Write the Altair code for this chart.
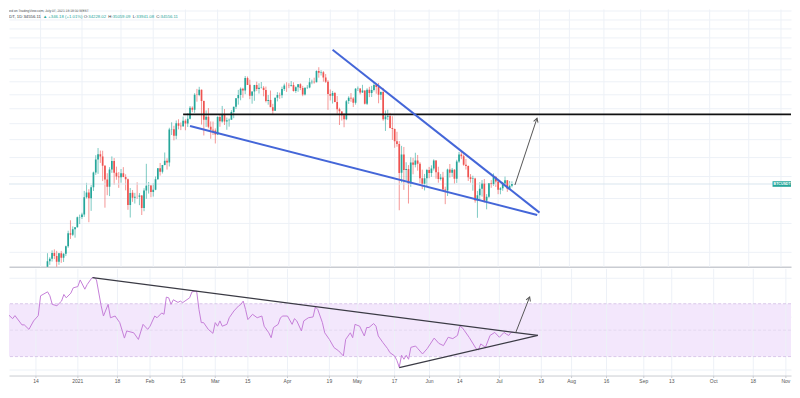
import math
import altair as alt
import pandas as pd

# ---------------- data ----------------
candle_start = "2020-12-17"
opens = [21336, 22797, 23107, 23821, 23455, 22719, 23810, 23232, 23729, 24712, 26493, 26281, 27079, 27385, 28875,
         28923, 29331, 32176, 33000, 31989, 33949, 36769, 39432, 40586, 40088, 38150, 35410, 34049, 37371, 39145, 36737,
         35994, 35824, 36622, 35901, 35468, 30852, 32950, 32078, 32259, 32254, 32464, 30362, 33368, 34246, 34262,
         33092, 33517, 35472, 37620, 36936, 38289, 39181, 38795, 46374, 46420, 44807, 47969, 47288, 47153, 48577, 47911,
         49133, 52117, 51553, 55906, 55841, 57413, 54087, 48891, 49677, 47073, 46276, 46104,
         45135, 49587, 48436, 50349, 48374, 48746, 48882, 50959, 52375, 54874, 55851, 57773, 57221, 61188, 58976, 55605,
         56900, 58912, 57641, 58030, 58100, 57351, 54083, 54342, 52303, 51293, 55025, 55817, 55782, 57635, 58746,
         58739, 58720, 58950, 57052, 58202, 59129, 57991, 55954, 58077, 58142, 59769, 59980, 59838, 63576, 62959, 63159,
         61334, 60006, 56150, 55633, 56425, 53787, 51690, 51110, 50047, 49004, 54030, 55036, 54819, 53555,
         57714, 57826, 56610, 57213, 53241, 57473, 56428, 57380, 58928, 58280, 55883, 56750, 49007, 49690, 49880, 46742,
         46457, 43539, 42849, 36707, 40526, 37253, 37455, 34655, 38797, 38325, 39241, 38529, 35662, 34606, 35641,
         37253, 36694, 37568, 39246, 36829, 35516, 35796, 33556, 33381, 37389, 36697, 37340, 35555, 39016, 40516, 40143,
         38349, 38099, 35854, 35484, 35601, 31614, 32510, 33675, 34663, 31576, 32283, 34702, 34494, 35911,
         35045, 33502, 33786, 34669, 35288, 33690, 34228]
highs = [23800, 23285, 24171, 24295, 24102, 23837, 24100, 23794, 24789, 26867, 28422, 27500, 27410, 28996, 29300,
         29600, 33300, 34778, 33600, 34360, 36939, 40365, 41950, 41380, 41350, 38264, 36628, 37850, 40100, 39747, 37950,
         36852, 37469, 37850, 36415, 35600, 33826, 33456, 32944, 34875, 32921, 32557, 33783, 38531, 34933, 34342,
         34717, 35984, 37662, 38708, 38310, 40955, 39700, 46794, 48200, 47310, 48678, 48985, 48150, 49707, 49010, 50623,
         52618, 52530, 56368, 57700, 58352, 57508, 54183, 51374, 52041, 48424, 48395, 46638,
         49791, 50200, 52640, 51773, 49448, 49200, 51450, 52402, 54895, 57387, 58150, 58058, 61844, 61683, 60633, 56938,
         58982, 60000, 59468, 59880, 58589, 58430, 55830, 57200, 53238, 55073, 56700, 56559, 58400, 59368, 59800,
         59490, 60200, 59791, 58500, 59251, 59474, 58650, 58153, 58894, 61216, 60658, 61300, 63777, 64854, 63800, 63520,
         62506, 60499, 57526, 57076, 56757, 55521, 52131, 51166, 50567, 54356, 55460, 56428, 55200, 57963,
         58458, 57912, 58981, 57213, 57911, 58360, 58650, 59500, 59300, 59592, 56900, 58000, 51367, 51570, 50700, 49800,
         46600, 45800, 43547, 42451, 42200, 38856, 38270, 39920, 39791, 40900, 40411, 38877, 37338, 36488, 37499,
         37895, 38225, 39476, 39289, 37925, 36480, 36900, 34068, 37534, 38491, 37680, 37436, 39380, 41064, 41330, 40527,
         39559, 38202, 36457, 36137, 35750, 33298, 34881, 35298, 35500, 32730, 34749, 35297, 36600, 36100,
         35057, 33977, 34945, 35967, 35293, 35118, 35059]
lows = [21230, 22350, 22750, 23060, 21815, 22353, 22600, 22703, 23433, 24500, 25700, 26101, 25880, 27320, 27850,
        28624, 28946, 31963, 28130, 29900, 33288, 36300, 36500, 38720, 35111, 30420, 32531, 32380, 36701, 34408, 35357,
        33850, 34800, 35844, 33400, 30071, 28850, 31390, 31106, 31910, 30838, 29241, 29842, 31915, 32825, 32171,
        32296, 33418, 35362, 36161, 36570, 38215, 37351, 37988, 45000, 43727, 43994, 46400, 46202, 47014, 46174, 47003,
        48947, 50901, 50710, 53863, 55477, 47622, 44892, 47004, 46674, 44106, 45000, 43000,
        45000, 47047, 48100, 47500, 46300, 47070, 48882, 49274, 51789, 53005, 54272, 55013, 56078, 58966, 54600, 53271,
        54123, 57023, 56270, 57820, 55450, 53650, 53000, 52819, 50427, 51283, 53950, 54691, 54900, 57072, 56769,
        57935, 58428, 56880, 56478, 56817, 57333, 55473, 55700, 57654, 57903, 59177, 59369, 59790, 61301, 62020, 60000,
        59580, 51541, 54221, 53329, 53696, 50500, 47500, 48658, 46930, 48753, 53222, 53813, 52330, 53013,
        57052, 56035, 56478, 53046, 52900, 55200, 55241, 56900, 56235, 53400, 54370, 48600, 46000, 48800, 46650, 43825,
        42002, 42250, 30000, 34850, 33488, 35200, 31111, 34031, 36420, 37800, 37134, 34684, 33633, 33380, 34153,
        35662, 35920, 37170, 35555, 34800, 35222, 33300, 31000, 32396, 35782, 35936, 34600, 34757, 38731, 39506, 38116,
        37365, 35129, 34803, 33336, 31251, 28805, 31683, 32286, 31275, 30151, 32071, 33862, 34225, 34017,
        32711, 32699, 33316, 34357, 33125, 33532, 33941]
closes = [22797, 23107, 23821, 23455, 22719, 23810, 23232, 23729, 24712, 26493, 26281, 27079, 27385, 28875, 28923,
          29331, 32178, 33000, 31988, 33949, 36769, 39432, 40582, 40088, 38150, 35404, 34051, 37371, 39144, 36742, 35994,
          35828, 36631, 35891, 35468, 30850, 32945, 32078, 32259, 32254, 32467, 30366, 33364, 34252, 34262, 33092,
          33526, 35466, 37618, 36936, 38290, 39186, 38795, 46374, 46420, 44807, 47969, 47287, 47153, 48577, 47911, 49133,
          52119, 51552, 55906, 55841, 57408, 54087, 48891, 49676, 47073, 46276, 46106, 45135,
          49587, 48440, 50349, 48374, 48751, 48882, 50971, 52375, 54884, 55851, 57773, 57221, 61188, 58968, 55605, 56900,
          58912, 57648, 58030, 58102, 57351, 54083, 54341, 52303, 51293, 55025, 55817, 55777, 57635, 58746, 58740,
          58720, 58950, 57051, 58202, 59129, 57991, 55953, 58077, 58142, 59769, 59980, 59838, 63576, 62959, 63159, 61334,
          60006, 56150, 55633, 56425, 53787, 51690, 51125, 50047, 49004, 54021, 55033, 54824, 53555, 57750,
          57828, 56610, 57213, 53241, 57473, 56428, 57380, 58928, 58280, 55883, 56750, 49007, 49716, 49880, 46760, 46456,
          43538, 42849, 36690, 40527, 37252, 37449, 34655, 38797, 38324, 39241, 38529, 35663, 34606, 35641, 37254,
          36694, 37568, 39246, 36829, 35513, 35796, 33552, 33380, 37389, 36697, 37340, 35555, 39015, 40516, 40144, 38349,
          38092, 35820, 35484, 35600, 31608, 32509, 33678, 34663, 31584, 32283, 34700, 34494, 35911, 35045,
          33504, 33786, 34669, 35287, 33690, 34220, 34556]

rsi_dates = ["2020-11-29", "2020-11-30", "2020-12-01", "2020-12-02", "2020-12-04", "2020-12-05", "2020-12-08",
             "2020-12-09", "2020-12-11", "2020-12-13", "2020-12-15", "2020-12-16", "2020-12-19", "2020-12-20",
             "2020-12-21", "2020-12-23", "2020-12-25", "2020-12-26", "2020-12-27", "2020-12-29", "2020-12-30",
             "2021-01-01", "2021-01-02", "2021-01-04", "2021-01-05", "2021-01-07", "2021-01-08", "2021-01-09",
             "2021-01-11", "2021-01-12", "2021-01-14", "2021-01-15", "2021-01-17", "2021-01-19", "2021-01-21",
             "2021-01-22", "2021-01-25", "2021-01-27", "2021-01-29", "2021-01-31", "2021-02-01", "2021-02-03",
             "2021-02-04", "2021-02-06", "2021-02-07", "2021-02-08", "2021-02-09", "2021-02-10", "2021-02-11",
             "2021-02-13", "2021-02-14", "2021-02-15", "2021-02-18", "2021-02-19", "2021-02-21", "2021-02-22",
             "2021-02-23", "2021-02-24", "2021-02-26", "2021-02-28", "2021-03-01", "2021-03-02", "2021-03-03",
             "2021-03-04", "2021-03-06", "2021-03-07", "2021-03-09", "2021-03-11", "2021-03-12", "2021-03-13",
             "2021-03-14", "2021-03-15", "2021-03-17", "2021-03-19", "2021-03-21", "2021-03-22", "2021-03-24",
             "2021-03-25", "2021-03-26", "2021-03-28", "2021-03-29", "2021-03-30", "2021-04-01", "2021-04-03",
             "2021-04-04", "2021-04-05", "2021-04-07", "2021-04-08", "2021-04-10", "2021-04-12", "2021-04-13",
             "2021-04-14", "2021-04-16", "2021-04-17", "2021-04-19", "2021-04-21", "2021-04-23", "2021-04-25",
             "2021-04-26", "2021-04-28", "2021-04-29", "2021-04-30", "2021-05-02", "2021-05-04", "2021-05-05",
             "2021-05-06", "2021-05-08", "2021-05-09", "2021-05-10", "2021-05-12", "2021-05-14", "2021-05-15",
             "2021-05-17", "2021-05-18", "2021-05-19", "2021-05-20", "2021-05-21", "2021-05-22", "2021-05-23",
             "2021-05-24", "2021-05-26", "2021-05-27", "2021-05-29", "2021-05-31", "2021-06-03", "2021-06-05",
             "2021-06-07", "2021-06-09", "2021-06-11", "2021-06-13", "2021-06-14", "2021-06-15", "2021-06-16",
             "2021-06-18", "2021-06-21", "2021-06-22", "2021-06-23", "2021-06-25", "2021-06-27", "2021-06-29",
             "2021-07-01", "2021-07-03", "2021-07-04", "2021-07-05", "2021-07-06", "2021-07-07"]
rsi_values = [64.5, 70, 63, 62, 58.7, 61, 54, 54, 50.6, 57, 61, 76, 79, 76, 69.5, 68.5, 72, 77, 74.5, 78, 82,
              83, 88, 81, 84.5, 89.5, 90, 88, 68.5, 60.7, 69.5, 59.4, 60.7, 55.7, 44, 49.4, 48, 43, 54.4, 50.6,
              53, 60.7, 59.4, 63, 62, 75, 74.5, 69.5, 73, 71, 72, 70.8, 74.5, 79, 79.6, 65.7, 55.7, 55.7, 50.6, 47.6,
              55.7, 53, 57, 53, 54.4, 59.4, 64.5, 68.3, 69.5, 72, 65.7, 58, 62, 59.4, 60.7, 53, 48, 44.3, 52, 54.4,
              59.4, 60.7, 60.7, 54.4, 58.7, 57, 49.4, 57, 59.4, 60, 67.5, 65.7, 55.7, 48, 43, 36.8, 34.3, 30.5,
              43, 48, 44.3, 54.4, 53, 45.6, 52, 52, 55, 53, 45.6, 40.6, 36, 33, 30.5, 27, 22, 31, 28, 31, 28,
              37, 38, 36, 32, 36, 44, 40, 38.3, 44.6, 43.6, 46, 53, 52, 49.6, 44.6, 36, 35, 39.6, 37, 46, 48.3,
              44.6, 48.3, 47, 46, 48.3, 48.5]

tick_dates = ["2020-12-14", "2021-01-01", "2021-01-18", "2021-02-01", "2021-02-15", "2021-03-01", "2021-03-15",
              "2021-04-01", "2021-04-19", "2021-05-01", "2021-05-17", "2021-06-01", "2021-06-14", "2021-07-01",
              "2021-07-19", "2021-08-01", "2021-08-16", "2021-09-01", "2021-09-13", "2021-10-01", "2021-10-18",
              "2021-11-01"]
tick_labels = ["14", "2021", "18", "Feb", "15", "Mar", "15", "Apr", "19", "May", "17", "Jun", "14", "Jul",
               "19", "Aug", "16", "Sep", "13", "Oct", "18", "Nov"]
price_grid = [24000, 28000, 32000, 36000, 40000, 44000, 48000, 52000, 56000, 60000, 64000, 68000, 72000,
              76000, 80000, 84000, 88000]
rsi_grid = [20, 40, 60, 80, 90]
rsi_band = [30, 70]
rsi_mid = [50]
last_price = 34556.11

resistance_dates = ["2021-02-14", "2021-12-01"]
resistance_prices = [50300, 50300]
upper_wedge_dates = ["2021-04-20", "2021-07-19"]
upper_wedge_prices = [71280, 29620]
lower_wedge_dates = ["2021-02-17", "2021-07-18"]
lower_wedge_prices = [47230, 29250]
price_arrow_dates = ["2021-07-08T07:00:00Z", "2021-07-17T22:00:00Z"]
price_arrow_prices = [34370, 49270]
rsi_upper_dates = ["2021-01-07T07:00:00Z", "2021-07-17T12:00:00Z"]
rsi_upper_values = [89.8, 46]
rsi_lower_dates = ["2021-05-19", "2021-07-17T12:00:00Z"]
rsi_lower_values = [21.7, 46]
rsi_arrow_dates = ["2021-07-08", "2021-07-14"]
rsi_arrow_values = [48.1, 75.1]

# ---------------- tables ----------------
n = len(closes)
assert len(opens) == n == len(highs) == len(lows) == 203
candle_dates = pd.date_range(candle_start, periods=n, freq="D").strftime("%Y-%m-%d")
candles = pd.DataFrame({"date": candle_dates, "open": opens, "high": highs, "low": lows, "close": closes})
candles["dir"] = ["up" if c >= o else "down" for o, c in zip(opens, closes)]
rsi_df = pd.DataFrame({"date": rsi_dates, "rsi": rsi_values})
ticks_df = pd.DataFrame({"date": tick_dates, "label": tick_labels})

def ms(s):
    return int(pd.Timestamp(s, tz="UTC").value // 10**6)

x_domain = [ms("2020-12-02T10:29:00"), ms("2021-11-03T05:00:00")]

UP, DOWN = "#26a69a", "#ef5350"
GRID = "#edf1f7"
FONT = "Liberation Sans"
W = 784
H_TOP, H_BOT = 258, 107

x_scale = alt.Scale(type="utc", domain=x_domain)
y_scale = alt.Scale(type="log", domain=[22116, 88536], nice=False)
r_scale = alt.Scale(domain=[15.66, 96.42], nice=False, zero=False)

top_x_axis = alt.Axis(labels=False, ticks=False, grid=False, domainColor="#c9ccd2", domainWidth=1.5,
                      title=None, minExtent=0, maxExtent=0)
bot_x_axis = alt.Axis(labels=False, ticks=False, grid=False, domainColor="#c9ccd2", domainWidth=1,
                      title=None, minExtent=0, maxExtent=0)
top_y_axis = alt.Axis(values=price_grid, labels=False, ticks=False, domain=False, grid=True, gridColor=GRID,
                      title=None, orient="right", minExtent=0, maxExtent=0)
bot_y_axis = alt.Axis(values=rsi_grid, labels=False, ticks=False, domain=False, grid=True, gridColor=GRID,
                      title=None, orient="right", minExtent=0, maxExtent=0)

def line_df(dates, vals):
    return pd.DataFrame({"date": dates, "v": vals})

color_enc = alt.Color("dir:N", scale=alt.Scale(domain=["up", "down"], range=[UP, DOWN]), legend=None)

vgrid_top = alt.Chart(ticks_df).mark_rule(color=GRID, strokeWidth=1).encode(
    x=alt.X("date:T", scale=x_scale, axis=top_x_axis))
vgrid_bot = alt.Chart(ticks_df).mark_rule(color=GRID, strokeWidth=1).encode(
    x=alt.X("date:T", scale=x_scale, axis=bot_x_axis))
tick_marks = alt.Chart(ticks_df).mark_rule(color="#c9ccd2", strokeWidth=1).encode(
    x=alt.X("date:T", scale=x_scale), y=alt.value(H_BOT), y2=alt.value(H_BOT + 2.5))
tick_text = alt.Chart(ticks_df).mark_text(color="#555", fontSize=5, font=FONT, baseline="top").encode(
    x=alt.X("date:T", scale=x_scale), y=alt.value(H_BOT + 3), text="label:N")

base = alt.Chart(candles)
wicks = base.mark_rule(strokeWidth=0.8, opacity=0.75, clip=True).encode(
    x=alt.X("date:T", scale=x_scale),
    y=alt.Y("low:Q", scale=y_scale, axis=top_y_axis),
    y2="high:Q",
    color=color_enc,
)
bodies = base.mark_bar(size=1.7, clip=True).encode(
    x=alt.X("date:T", scale=x_scale),
    y=alt.Y("open:Q", scale=y_scale),
    y2="close:Q",
    color=color_enc,
)

def pline(dates, vals, color, width, scale):
    return alt.Chart(line_df(dates, vals)).mark_line(color=color, strokeWidth=width, clip=True).encode(
        x=alt.X("date:T", scale=x_scale), y=alt.Y("v:Q", scale=scale))

def head(date, val, angle, scale, color):
    return alt.Chart(line_df([date], [val])).mark_point(
        shape="M -0.55 0.95 L 0 0 L 0.55 0.95", filled=False, size=70, angle=angle,
        color=color, strokeWidth=1, opacity=1, clip=True).encode(
        x=alt.X("date:T", scale=x_scale), y=alt.Y("v:Q", scale=scale))

last_line = alt.Chart(pd.DataFrame({"v": [last_price]})).mark_rule(color="#d9e6ee", strokeWidth=1).encode(
    y=alt.Y("v:Q", scale=y_scale))

resistance = pline(resistance_dates, resistance_prices, "#111111", 1.8, y_scale)
upper_wedge = pline(upper_wedge_dates, upper_wedge_prices, "#4466d8", 2, y_scale)
lower_wedge = pline(lower_wedge_dates, lower_wedge_prices, "#4466d8", 2, y_scale)
price_arrow = pline(price_arrow_dates, price_arrow_prices, "#555555", 1, y_scale)
price_head = head(price_arrow_dates[1], price_arrow_prices[1], 18, y_scale, "#555555")

# price tag on the right edge
tag_df = pd.DataFrame({"lo": [last_price * math.exp(-2.8 / 186)], "hi": [last_price * math.exp(2.8 / 186)],
                       "v": [last_price], "t": ["BTCUSDT"]})
tag_rect = alt.Chart(tag_df).mark_rect(color="#26a69a").encode(
    x=alt.value(W - 18.5), x2=alt.value(W), y=alt.Y("lo:Q", scale=y_scale), y2="hi:Q")
tag_text = alt.Chart(tag_df).mark_text(color="white", fontSize=3.6, font=FONT, fontWeight="bold",
                                       align="left", baseline="middle", clip=True).encode(
    x=alt.value(W - 17.5), y=alt.Y("v:Q", scale=y_scale), text="t:N")

def htext(s, x, y, color, size, align="left", weight="normal"):
    return alt.Chart(pd.DataFrame({"t": [s]})).mark_text(
        color=color, fontSize=size, font=FONT, align=align, baseline="top", clip=True, fontWeight=weight).encode(
        x=alt.value(x), y=alt.value(y), text="t:N")

DARK = "#333a45"
FS = 4.3
header = [
    htext("Published on TradingView.com, July 07, 2021 18:18:50 WEST", 80, 0, "#555", 3.3, align="right"),
    htext("BTCUSDT, 1D  34556.11", 32, 5.5, DARK, FS, align="right"),
    htext("\u25B2 +346.18 (+1.01%)", 34, 5.5, UP, FS),
    htext("O:", 75, 5.5, DARK, FS), htext("34228.02", 79.5, 5.5, UP, FS),
    htext("H:", 99.6, 5.5, DARK, FS), htext("35059.09", 103.9, 5.5, UP, FS),
    htext("L:", 124, 5.5, DARK, FS), htext("33941.08", 127.6, 5.5, UP, FS),
    htext("C:", 147.6, 5.5, DARK, FS), htext("34556.11", 151.9, 5.5, UP, FS),
]

top = alt.layer(vgrid_top, wicks, last_line, bodies, resistance, lower_wedge, upper_wedge, price_arrow,
                price_head, tag_rect, tag_text, *header).properties(width=W, height=H_TOP)

# ---------------- RSI panel ----------------
band = alt.Chart(pd.DataFrame({"a": [rsi_band[0]], "b": [rsi_band[1]]})).mark_rect(color="#f3e7fc").encode(
    y=alt.Y("a:Q", scale=r_scale, axis=bot_y_axis), y2="b:Q")
band_lines = alt.Chart(pd.DataFrame({"v": rsi_band})).mark_rule(
    color="#d2bde6", strokeDash=[3, 2], strokeWidth=0.8).encode(y=alt.Y("v:Q", scale=r_scale))
mid_line = alt.Chart(pd.DataFrame({"v": rsi_mid})).mark_rule(
    color="#e2d6ee", strokeDash=[3, 2], strokeWidth=0.8).encode(y=alt.Y("v:Q", scale=r_scale))
rsi_line = alt.Chart(rsi_df).mark_line(color="#c57ed8", strokeWidth=1, clip=True).encode(
    x=alt.X("date:T", scale=x_scale), y=alt.Y("rsi:Q", scale=r_scale))
rsi_upper = pline(rsi_upper_dates, rsi_upper_values, "#3a3a44", 1.2, r_scale)
rsi_lower = pline(rsi_lower_dates, rsi_lower_values, "#3a3a44", 1.2, r_scale)
rsi_arrow = pline(rsi_arrow_dates, rsi_arrow_values, "#555555", 1, r_scale)
rsi_head = head(rsi_arrow_dates[1], rsi_arrow_values[1], 21, r_scale, "#555555")

bottom = alt.layer(band, vgrid_bot, mid_line, band_lines, rsi_line, rsi_upper, rsi_lower, rsi_arrow, rsi_head,
                   tick_marks, tick_text).properties(width=W, height=H_BOT)

chart = alt.vconcat(top, bottom, spacing=0).resolve_scale(x="independent", y="independent").properties(
    padding=0, background="white"
).configure_view(stroke=None)

chart.save("out.html", embed_options={"renderer": "svg", "actions": False})
